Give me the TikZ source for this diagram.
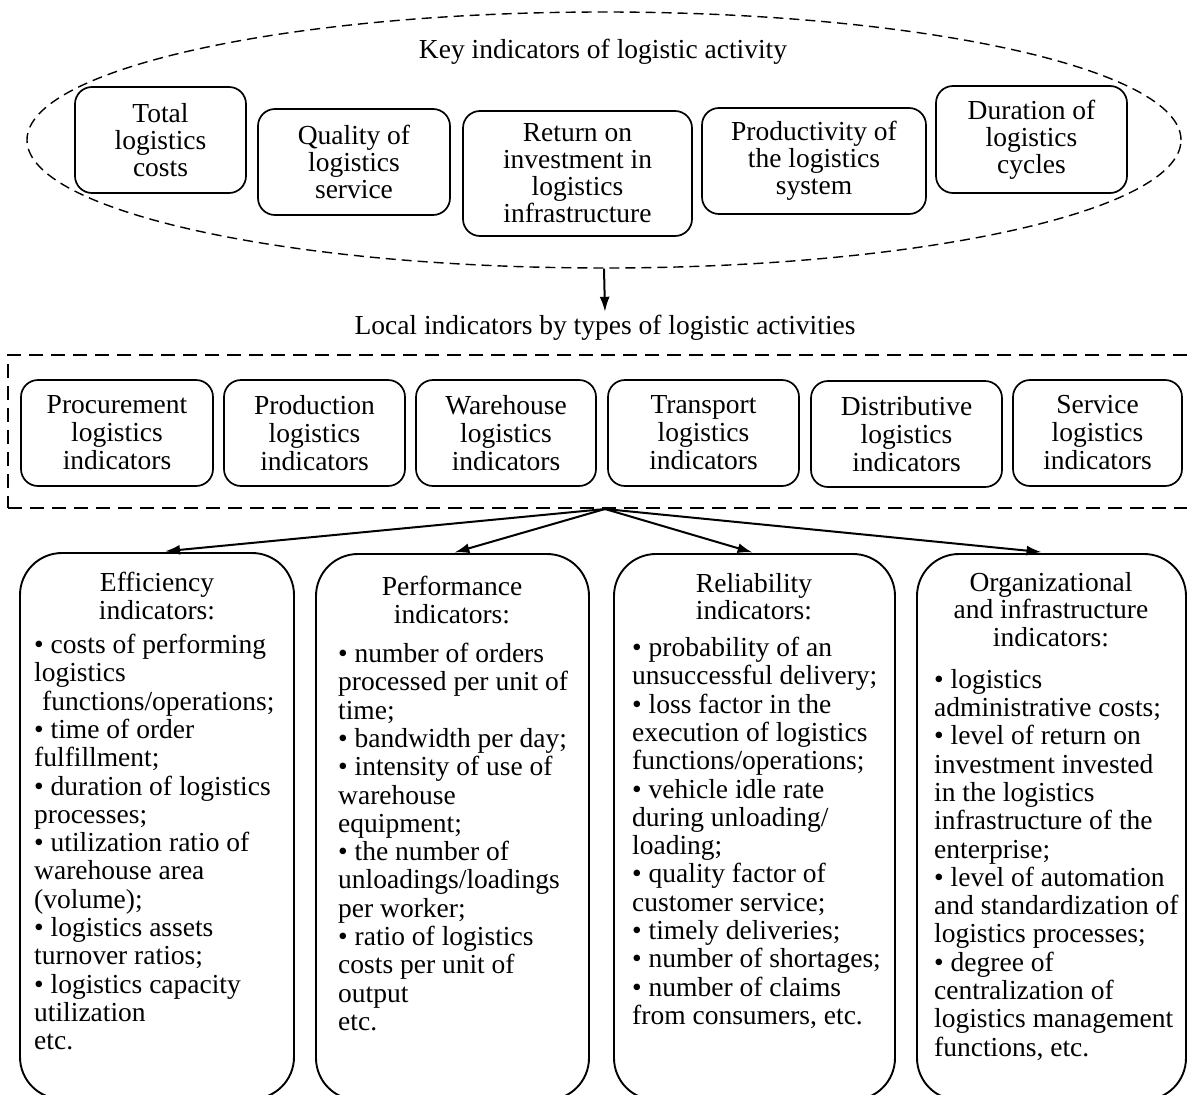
\documentclass[tikz,border=0pt]{standalone}
\usepackage{fontspec}
\setmainfont{Liberation Serif}
\usetikzlibrary{shapes.geometric,arrows.meta}

\begin{document}
\begin{tikzpicture}[x=1pt,y=-1pt,
	keybox/.style={draw,line width=1.7pt,rounded corners=17pt,align=center,inner sep=0pt,minimum height=106pt,font=\fontsize{27.5}{27}\selectfont},
	localbox/.style={draw,line width=1.7pt,rounded corners=17pt,align=center,inner sep=0pt,minimum height=106pt,font=\fontsize{27.5}{28}\selectfont},
	groupbox/.style={draw,line width=1.9pt,rounded corners=42pt,minimum height=546pt,inner sep=0pt},
	headtext/.style={anchor=north,align=center,inner sep=0pt,font=\fontsize{27.5}{27.5}\selectfont},
	listtext/.style={anchor=north west,align=left,inner sep=0pt,font=\fontsize{27.5}{28.3}\selectfont},
	link/.style={-{Latex[length=15pt,width=10pt]},line width=2pt}]
	\useasboundingbox (0,0) rectangle (1187,1095);

	\node[ellipse,draw,line width=1.4pt,dash pattern=on 10pt off 6pt,minimum width=1154pt,minimum height=256pt,inner sep=0pt] at (604,140) (keyell) {};
	\node[font=\fontsize{27.5}{27.5}\selectfont] at (603,52) (keytitle) {Key indicators of logistic activity};
	\node[keybox,minimum width=171pt] at (160.5,140) (total) {Total\\logistics\\costs};
	\node[keybox,minimum width=192pt] at (354,162) (quality) {Quality of\\logistics\\service};
	\node[keybox,minimum width=229pt,minimum height=125pt] at (577.5,173.5) (return) {Return on\\investment in\\logistics\\infrastructure};
	\node[keybox,minimum width=224pt] at (814,161) (productivity) {Productivity of\\the logistics\\system};
	\node[keybox,minimum width=191pt,minimum height=107pt] at (1031.5,139.5) (duration) {Duration of\\logistics\\cycles};

	\node[font=\fontsize{27.5}{27.5}\selectfont] at (605,328) (localtitle) {Local indicators by types of logistic activities};
	\node[draw,line width=2.4pt,dash pattern=on 14pt off 8pt,minimum width=1184pt,minimum height=153pt,inner sep=0pt] at (600,431.5) (localframe) {};
	\node[localbox,minimum width=192pt] at (117,433) (procurement) {Procurement\\logistics\\indicators};
	\node[localbox,minimum width=181pt] at (314.5,433) (production) {Production\\logistics\\indicators};
	\node[localbox,minimum width=180pt] at (506,433) (warehouse) {Warehouse\\logistics\\indicators};
	\node[localbox,minimum width=191pt] at (703.5,433) (transport) {Transport\\logistics\\indicators};
	\node[localbox,minimum width=191pt] at (906.5,434) (distributive) {Distributive\\logistics\\indicators};
	\node[localbox,minimum width=169pt] at (1097.5,433) (service) {Service\\logistics\\indicators};

	\path[link] (keyell.south) edge (localtitle.north);

	\node[groupbox,minimum width=274pt] at (157,826) (eff) {};
	\node[groupbox,minimum width=273pt] at (452.5,827) (perf) {};
	\node[groupbox,minimum width=281pt] at (754.5,827) (rel) {};
	\node[groupbox,minimum width=269pt] at (1051.5,827) (org) {};

	\node[headtext] at (157,572) (effhead) {Efficiency\\indicators:};
	\node[listtext] at (34,634) (efflist) {• costs of performing\\
		logistics\\
		\hspace*{8pt}functions/operations;\\
		• time of order\\
		fulfillment;\\
		• duration of logistics\\
		processes;\\
		• utilization ratio of\\
		warehouse area\\
		(volume);\\
		• logistics assets\\
		turnover ratios;\\
		• logistics capacity\\
		utilization\\
		etc.};

	\node[headtext] at (452,576) (perfhead) {Performance\\indicators:};
	\node[listtext] at (338,643) (perflist) {• number of orders\\
		processed per unit of\\
		time;\\
		• bandwidth per day;\\
		• intensity of use of\\
		warehouse\\
		equipment;\\
		• the number of\\
		unloadings/loadings\\
		per worker;\\
		• ratio of logistics\\
		costs per unit of\\
		output\\
		etc.};

	\node[headtext] at (754,573) (relhead) {Reliability\\indicators:};
	\node[listtext] at (632,637) (rellist) {• probability of an\\
		unsuccessful delivery;\\
		• loss factor in the\\
		execution of logistics\\
		functions/operations;\\
		• vehicle idle rate\\
		during unloading/\\
		loading;\\
		• quality factor of\\
		customer service;\\
		• timely deliveries;\\
		• number of shortages;\\
		• number of claims\\
		from consumers, etc.};

	\node[headtext] at (1051,572) (orghead) {Organizational\\and infrastructure\\indicators:};
	\node[listtext] at (934,669) (orglist) {• logistics\\
		administrative costs;\\
		• level of return on\\
		investment invested\\
		in the logistics\\
		infrastructure of the\\
		enterprise;\\
		• level of automation\\
		and standardization of\\
		logistics processes;\\
		• degree of\\
		centralization of\\
		logistics management\\
		functions, etc.};

	\coordinate (split) at (605,509);
	\path[link] (split) edge[shorten >=8pt] (eff.north);
	\path[link] (split) edge[shorten >=2pt] (perf.north);
	\path[link] (split) edge[shorten >=2pt] (rel.north);
	\path[link] (split) edge[shorten >=10pt] (org.north);
\end{tikzpicture}
\end{document}
